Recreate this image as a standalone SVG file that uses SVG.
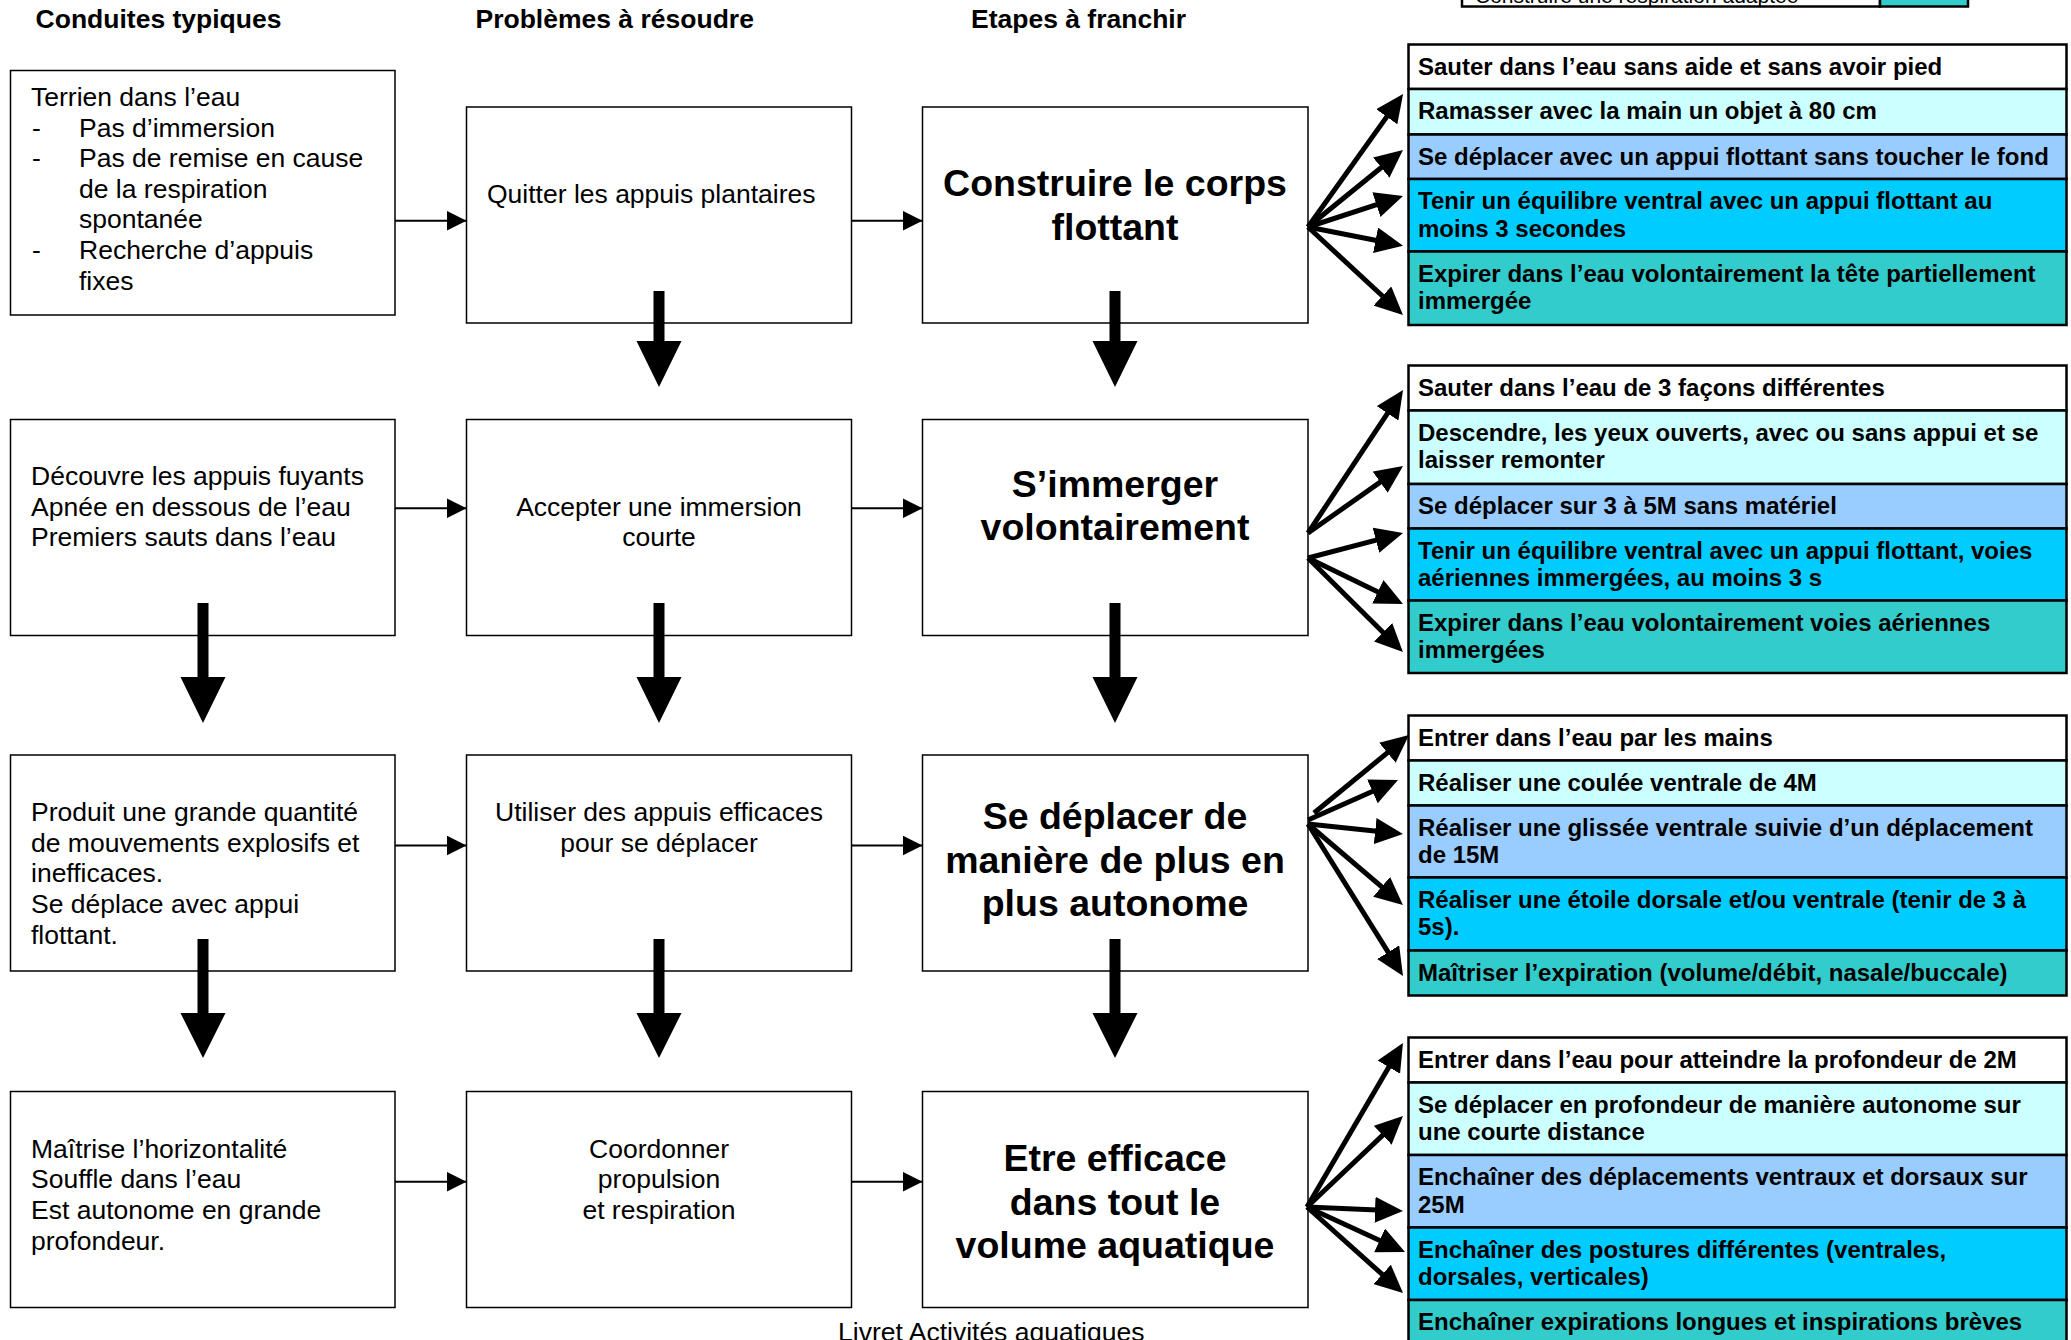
<svg xmlns="http://www.w3.org/2000/svg" width="2071" height="1340" viewBox="0 0 2071 1340">
<style>
text{font-family:"Liberation Sans",Arial,sans-serif;fill:#000}
.box{fill:#fff;stroke:#000;stroke-width:1.5}
.cell{stroke:#000;stroke-width:2.5}
.r1{fill:#fff}.r2{fill:#CCFFFF}.r3{fill:#99CCFF}.r4{fill:#00CCFF}.r5{fill:#33CCCC}
.n{font-size:26.5px}
.hd{font-size:26.5px;font-weight:bold}
.big{font-size:37.5px;font-weight:bold;text-anchor:middle}
.tb{font-size:24px;font-weight:bold}
.c{text-anchor:middle}
.thin{stroke:#000;stroke-width:2;fill:none;marker-end:url(#mThin)}
.fan{stroke:#000;stroke-width:5;fill:none;marker-end:url(#mFan)}
.bigarrow{fill:#000}
</style>
<defs>
<marker id="mThin" viewBox="0 0 20 20" refX="20" refY="10" markerWidth="20" markerHeight="20" markerUnits="userSpaceOnUse" orient="auto"><path d="M0,0 L20,10 L0,20 z" fill="#000"/></marker>
<marker id="mFan" viewBox="0 0 28 26" refX="14" refY="13" markerWidth="28" markerHeight="26" markerUnits="userSpaceOnUse" orient="auto"><path d="M0,0 L28,13 L0,26 z" fill="#000"/></marker>
</defs>
<rect width="2071" height="1340" fill="#fff"/>

<g id="headers">
<text class="hd" x="35.6" y="28">Conduites typiques</text>
<text class="hd" x="475.5" y="28">Problèmes à résoudre</text>
<text class="hd" x="971" y="28">Etapes à franchir</text>
</g>

<g id="legend">
<rect class="cell r1" x="1462" y="-40" width="418" height="46.5"/>
<rect class="cell r5" x="1880" y="-40" width="88" height="46.5"/>
<text x="1475" y="3" style="font-size:21px">Construire une respiration adaptée</text>
</g>

<!-- Column 1 -->
<g id="c1r1">
<rect class="box" x="10.5" y="70.5" width="384.5" height="244.5"/>
<text class="n" x="31" y="106">Terrien dans l’eau</text>
<text class="n" x="32" y="136.6">-</text><text class="n" x="79" y="136.6">Pas d’immersion</text>
<text class="n" x="32" y="167.2">-</text><text class="n" x="79" y="167.2">Pas de remise en cause</text>
<text class="n" x="79" y="197.8">de la respiration</text>
<text class="n" x="79" y="228.4">spontanée</text>
<text class="n" x="32" y="259">-</text><text class="n" x="79" y="259">Recherche d’appuis</text>
<text class="n" x="79" y="289.6">fixes</text>
</g>
<g id="c1r2">
<rect class="box" x="10.5" y="419.5" width="384.5" height="216"/>
<text class="n" x="31" y="484.5">Découvre les appuis fuyants</text>
<text class="n" x="31" y="515.5">Apnée en dessous de l’eau</text>
<text class="n" x="31" y="546">Premiers sauts dans l’eau</text>
</g>
<g id="c1r3">
<rect class="box" x="10.5" y="755" width="384.5" height="216"/>
<text class="n" x="31" y="820.5">Produit une grande quantité</text>
<text class="n" x="31" y="851.5">de mouvements explosifs et</text>
<text class="n" x="31" y="882">inefficaces.</text>
<text class="n" x="31" y="913">Se déplace avec appui</text>
<text class="n" x="31" y="943.5">flottant.</text>
</g>
<g id="c1r4">
<rect class="box" x="10.5" y="1091.5" width="384.5" height="216"/>
<text class="n" x="31" y="1157.5">Maîtrise l’horizontalité</text>
<text class="n" x="31" y="1187.5">Souffle dans l’eau</text>
<text class="n" x="31" y="1218.5">Est autonome en grande</text>
<text class="n" x="31" y="1249.5">profondeur.</text>
</g>

<!-- Column 2 -->
<g id="c2r1">
<rect class="box" x="466.5" y="107" width="385" height="216"/>
<text class="n" x="487" y="203.3">Quitter les appuis plantaires</text>
</g>
<g id="c2r2">
<rect class="box" x="466.5" y="419.5" width="385" height="216"/>
<text class="n c" x="659" y="515.5">Accepter une immersion</text>
<text class="n c" x="659" y="546">courte</text>
</g>
<g id="c2r3">
<rect class="box" x="466.5" y="755" width="385" height="216"/>
<text class="n c" x="659" y="820.5">Utiliser des appuis efficaces</text>
<text class="n c" x="659" y="851.5">pour se déplacer</text>
</g>
<g id="c2r4">
<rect class="box" x="466.5" y="1091.5" width="385" height="216"/>
<text class="n c" x="659" y="1157.5">Coordonner</text>
<text class="n c" x="659" y="1187.5">propulsion</text>
<text class="n c" x="659" y="1218.5">et respiration</text>
</g>

<!-- Column 3 -->
<g id="c3r1">
<rect class="box" x="922.5" y="107" width="385.5" height="216"/>
<text class="big" x="1115" y="196">Construire le corps</text>
<text class="big" x="1115" y="240">flottant</text>
</g>
<g id="c3r2">
<rect class="box" x="922.5" y="419.5" width="385.5" height="216"/>
<text class="big" x="1115" y="496.5">S’immerger</text>
<text class="big" x="1115" y="540">volontairement</text>
</g>
<g id="c3r3">
<rect class="box" x="922.5" y="755" width="385.5" height="216"/>
<text class="big" x="1115" y="829">Se déplacer de</text>
<text class="big" x="1115" y="872.5">manière de plus en</text>
<text class="big" x="1115" y="915.5">plus autonome</text>
</g>
<g id="c3r4">
<rect class="box" x="922.5" y="1091.5" width="385.5" height="216"/>
<text class="big" x="1115" y="1170.5">Etre efficace</text>
<text class="big" x="1115" y="1214.5">dans tout le</text>
<text class="big" x="1115" y="1257.5">volume aquatique</text>
</g>

<!-- Tables -->
<g id="t1">
<rect class="cell r1" x="1408.5" y="44.5" width="658" height="44.5"/>
<rect class="cell r2" x="1408.5" y="89" width="658" height="45.5"/>
<rect class="cell r3" x="1408.5" y="134.5" width="658" height="44.5"/>
<rect class="cell r4" x="1408.5" y="179" width="658" height="72.5"/>
<rect class="cell r5" x="1408.5" y="251.5" width="658" height="73.5"/>
<text class="tb" x="1418" y="74.5">Sauter dans l’eau sans aide et sans avoir pied</text>
<text class="tb" x="1418" y="119">Ramasser avec la main un objet à 80 cm</text>
<text class="tb" x="1418" y="164.5">Se déplacer avec un appui flottant sans toucher le fond</text>
<text class="tb" x="1418" y="209">Tenir un équilibre ventral avec un appui flottant au</text>
<text class="tb" x="1418" y="236.5">moins 3 secondes</text>
<text class="tb" x="1418" y="281.5">Expirer dans l’eau volontairement la tête partiellement</text>
<text class="tb" x="1418" y="309">immergée</text>
</g>
<g id="t2">
<rect class="cell r1" x="1408.5" y="365.5" width="658" height="45"/>
<rect class="cell r2" x="1408.5" y="410.5" width="658" height="73.5"/>
<rect class="cell r3" x="1408.5" y="484" width="658" height="44.5"/>
<rect class="cell r4" x="1408.5" y="528.5" width="658" height="72"/>
<rect class="cell r5" x="1408.5" y="600.5" width="658" height="72.5"/>
<text class="tb" x="1418" y="395.5">Sauter dans l’eau de 3 façons différentes</text>
<text class="tb" x="1418" y="440.5">Descendre, les yeux ouverts, avec ou sans appui et se</text>
<text class="tb" x="1418" y="468">laisser remonter</text>
<text class="tb" x="1418" y="514">Se déplacer sur 3 à 5M sans matériel</text>
<text class="tb" x="1418" y="558.5">Tenir un équilibre ventral avec un appui flottant, voies</text>
<text class="tb" x="1418" y="586">aériennes immergées, au moins 3 s</text>
<text class="tb" x="1418" y="630.5">Expirer dans l’eau volontairement voies aériennes</text>
<text class="tb" x="1418" y="658">immergées</text>
</g>
<g id="t3">
<rect class="cell r1" x="1408.5" y="715.5" width="658" height="45"/>
<rect class="cell r2" x="1408.5" y="760.5" width="658" height="45"/>
<rect class="cell r3" x="1408.5" y="805.5" width="658" height="72"/>
<rect class="cell r4" x="1408.5" y="877.5" width="658" height="73"/>
<rect class="cell r5" x="1408.5" y="950.5" width="658" height="45"/>
<text class="tb" x="1418" y="745.5">Entrer dans l’eau par les mains</text>
<text class="tb" x="1418" y="790.5">Réaliser une coulée ventrale de 4M</text>
<text class="tb" x="1418" y="835.5">Réaliser une glissée ventrale suivie d’un déplacement</text>
<text class="tb" x="1418" y="863">de 15M</text>
<text class="tb" x="1418" y="907.5">Réaliser une étoile dorsale et/ou ventrale (tenir de 3 à</text>
<text class="tb" x="1418" y="935">5s).</text>
<text class="tb" x="1418" y="980.5">Maîtriser l’expiration (volume/débit, nasale/buccale)</text>
</g>
<g id="t4">
<rect class="cell r1" x="1408.5" y="1037.5" width="658" height="45"/>
<rect class="cell r2" x="1408.5" y="1082.5" width="658" height="72.5"/>
<rect class="cell r3" x="1408.5" y="1155" width="658" height="72.5"/>
<rect class="cell r4" x="1408.5" y="1227.5" width="658" height="72.5"/>
<rect class="cell r5" x="1408.5" y="1300" width="658" height="60"/>
<text class="tb" x="1418" y="1067.5">Entrer dans l’eau pour atteindre la profondeur de 2M</text>
<text class="tb" x="1418" y="1112.5">Se déplacer en profondeur de manière autonome sur</text>
<text class="tb" x="1418" y="1140">une courte distance</text>
<text class="tb" x="1418" y="1185">Enchaîner des déplacements ventraux et dorsaux sur</text>
<text class="tb" x="1418" y="1212.5">25M</text>
<text class="tb" x="1418" y="1257.5">Enchaîner des postures différentes (ventrales,</text>
<text class="tb" x="1418" y="1285">dorsales, verticales)</text>
<text class="tb" x="1418" y="1330">Enchaîner expirations longues et inspirations brèves</text>
</g>

<g id="connectors">
<!-- horizontal thin arrows -->
<line class="thin" x1="395" y1="220.7" x2="466.5" y2="220.7"/>
<line class="thin" x1="851.5" y1="220.7" x2="922.5" y2="220.7"/>
<line class="thin" x1="395" y1="508.3" x2="466.5" y2="508.3"/>
<line class="thin" x1="851.5" y1="508.3" x2="922.5" y2="508.3"/>
<line class="thin" x1="395" y1="845.5" x2="466.5" y2="845.5"/>
<line class="thin" x1="851.5" y1="845.5" x2="922.5" y2="845.5"/>
<line class="thin" x1="395" y1="1181.7" x2="466.5" y2="1181.7"/>
<line class="thin" x1="851.5" y1="1181.7" x2="922.5" y2="1181.7"/>
<!-- big vertical arrows -->
<path class="bigarrow" d="M653.5,291 H664.5 V341 H681.5 L659,387 L636.5,341 H653.5 Z"/>
<path class="bigarrow" d="M1109.5,291 H1120.5 V341 H1137.5 L1115,387 L1092.5,341 H1109.5 Z"/>
<path class="bigarrow" d="M197.5,603 H208.5 V677 H225.5 L203,723 L180.5,677 H197.5 Z"/>
<path class="bigarrow" d="M653.5,603 H664.5 V677 H681.5 L659,723 L636.5,677 H653.5 Z"/>
<path class="bigarrow" d="M1109.5,603 H1120.5 V677 H1137.5 L1115,723 L1092.5,677 H1109.5 Z"/>
<path class="bigarrow" d="M197.5,939 H208.5 V1013 H225.5 L203,1058 L180.5,1013 H197.5 Z"/>
<path class="bigarrow" d="M653.5,939 H664.5 V1013 H681.5 L659,1058 L636.5,1013 H653.5 Z"/>
<path class="bigarrow" d="M1109.5,939 H1120.5 V1013 H1137.5 L1115,1058 L1092.5,1013 H1109.5 Z"/>
<!-- fan 1 -->
<line class="fan" x1="1308" y1="227" x2="1394.9" y2="105.4"/>
<line class="fan" x1="1308" y1="227" x2="1392.1" y2="158.8"/>
<line class="fan" x1="1308" y1="227" x2="1389.7" y2="200.3"/>
<line class="fan" x1="1308" y1="227" x2="1389.3" y2="243"/>
<line class="fan" x1="1308" y1="227" x2="1392.7" y2="305.5"/>
<!-- fan 2 -->
<line class="fan" x1="1308" y1="533" x2="1395.3" y2="401.7"/>
<line class="fan" x1="1308" y1="533" x2="1391.6" y2="474.1"/>
<line class="fan" x1="1308" y1="558" x2="1389.5" y2="536.6"/>
<line class="fan" x1="1308" y1="558" x2="1390.4" y2="597.9"/>
<line class="fan" x1="1308" y1="558" x2="1393" y2="642.2"/>
<!-- fan 3 -->
<line class="fan" x1="1314" y1="813" x2="1398.2" y2="743.9"/>
<line class="fan" x1="1308" y1="820" x2="1385.2" y2="785.7"/>
<line class="fan" x1="1308" y1="824" x2="1389.1" y2="832.5"/>
<line class="fan" x1="1308" y1="824" x2="1392.3" y2="895.9"/>
<line class="fan" x1="1308" y1="824" x2="1395.6" y2="964.1"/>
<!-- fan 4 -->
<line class="fan" x1="1307" y1="1207" x2="1395.9" y2="1055.1"/>
<line class="fan" x1="1307" y1="1207" x2="1392.8" y2="1125.6"/>
<line class="fan" x1="1307" y1="1207" x2="1389" y2="1210.4"/>
<line class="fan" x1="1307" y1="1207" x2="1392.3" y2="1246.2"/>
<line class="fan" x1="1307" y1="1207" x2="1392.6" y2="1283.7"/>
</g>

<g id="footer">
<text class="n" x="838" y="1341">Livret Activités aquatiques</text>
</g>
</svg>
